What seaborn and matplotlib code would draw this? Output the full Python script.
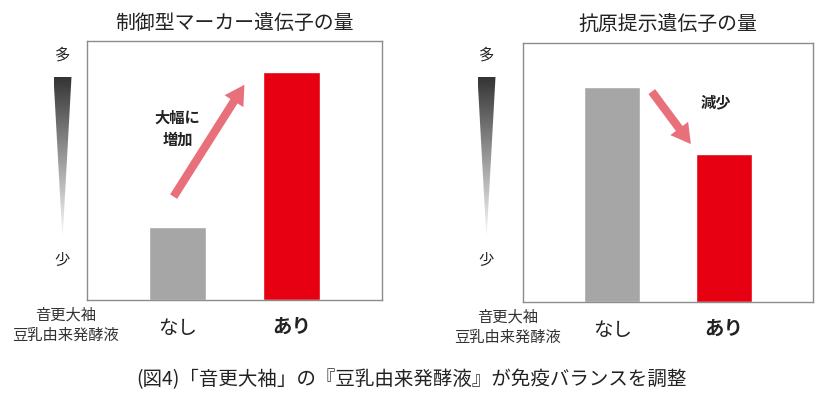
import numpy as np
import matplotlib
matplotlib.use("Agg")
import matplotlib.pyplot as plt
from matplotlib.patches import Polygon
import seaborn as sns

sns.set_style("white")
plt.rcParams['font.family'] = ['Noto Sans CJK JP', 'DejaVu Sans']

# データ
categories = ["なし", "あり"]
marker_vals = [28, 88]      # 制御型マーカー遺伝子の量
antigen_vals = [83, 57]     # 抗原提示遺伝子の量
bar_colors = ["#a6a6a6", "#e60012"]
titles = ["制御型マーカー遺伝子の量", "抗原提示遺伝子の量"]
notes = ["大幅に\n増加", "減少"]
caption = "(図4)「音更大袖」の『豆乳由来発酵液』が免疫バランスを調整"
xlabel = "音更大袖\n豆乳由来発酵液"

fig = plt.figure(figsize=(8.4, 3.94), dpi=100)

ax1 = fig.add_axes([0.1036, 0.2386, 0.3512, 0.6574])
ax2 = fig.add_axes([0.6226, 0.2343, 0.3452, 0.6573])

for ax, vals, title in zip([ax1, ax2], [marker_vals, antigen_vals], titles):
    sns.barplot(x=categories, y=vals, hue=categories, palette=bar_colors,
                legend=False, width=0.5, saturation=1, ax=ax)
    ax.set_xlim(-0.8, 1.8)
    ax.set_ylim(0, 100)
    ax.set_yticks([])
    ax.set_xticks([0, 1])
    ax.set_xticklabels(categories, fontsize=14, color="#222222")
    ax.get_xticklabels()[1].set_fontweight("bold")
    ax.tick_params(axis="x", length=0, pad=13)
    ax.set_xlabel("")
    ax.set_ylabel("")
    for s in ax.spines.values():
        s.set_color("#8c8c8c")
        s.set_linewidth(1.0)
    ax.set_title(title, fontsize=14.3, color="#222222", pad=9)

# 矢印
arrow_kw = dict(arrowstyle="simple,head_width=1.6,head_length=1.4,tail_width=0.6",
                color="#e8707a", lw=0)
ax1.annotate("", xy=(0.6, marker_vals[1] - 4), xytext=(-0.05, marker_vals[0] + 11),
             arrowprops=arrow_kw)
ax1.text(0.0, 66, notes[0], ha="center", va="center", fontsize=11,
         fontweight="bold", color="#222222", linespacing=1.45)
ax2.annotate("", xy=(0.72, antigen_vals[1] + 3), xytext=(0.34, antigen_vals[0] - 1),
             arrowprops=arrow_kw)
ax2.text(0.79, 77, notes[1], ha="left", va="center", fontsize=11,
         fontweight="bold", color="#222222")

# 多/少 のグラデーション
grad = np.linspace(0.2, 1.0, 256).reshape(-1, 1)
for xc in [62.5 / 840, 486.5 / 840]:
    wax = fig.add_axes([xc - 9 / 840, 1 - 240 / 394, 18 / 840, 163 / 394])
    wax.set_axis_off()
    im = wax.imshow(grad, cmap="gray", vmin=0, vmax=1, aspect="auto",
                    extent=[0, 1, 0, 1], origin="upper")
    tri = Polygon([[0, 1], [1, 1], [0.5, 0]], closed=True, transform=wax.transData)
    im.set_clip_path(tri)
    wax.set_xlim(0, 1)
    wax.set_ylim(0, 1)
    fig.text(xc, 1 - 55 / 394, "多", ha="center", va="center", fontsize=11, color="#222222")
    fig.text(xc, 1 - 260 / 394, "少", ha="center", va="center", fontsize=11, color="#222222")

fig.text(66 / 840, 1 - 325 / 394, xlabel, ha="center", va="center", fontsize=11,
         color="#333333", linespacing=1.25)
fig.text(508 / 840, 1 - 327 / 394, xlabel, ha="center", va="center", fontsize=11,
         color="#333333", linespacing=1.25)

fig.text(0.49, 1 - 380 / 394, caption, ha="center", va="center", fontsize=14,
         color="#222222")

fig.savefig("out.png", dpi=100)
